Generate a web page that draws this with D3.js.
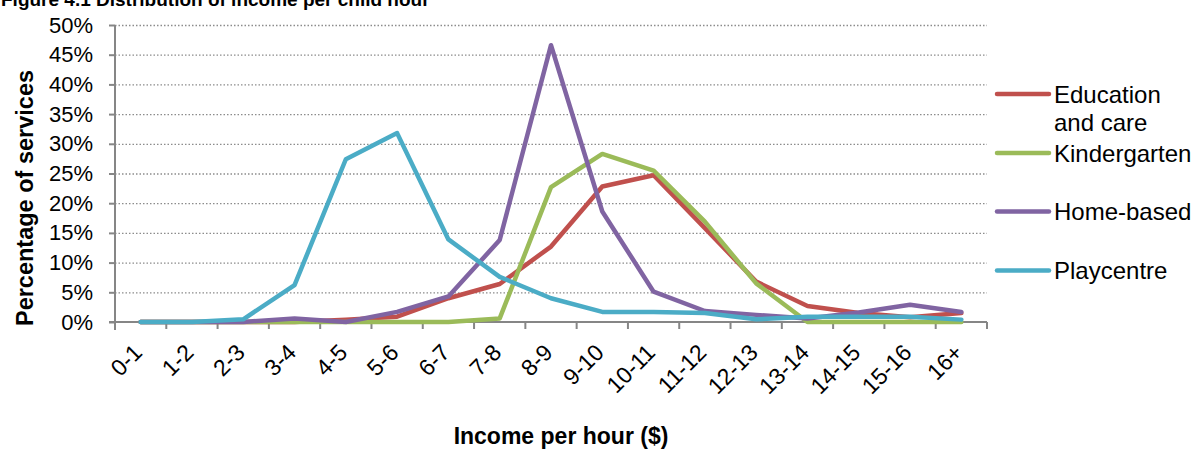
<!DOCTYPE html>
<html>
<head>
<meta charset="utf-8">
<script src="https://cdn.jsdelivr.net/npm/d3@7/dist/d3.min.js"></script>
<style>
  html, body { margin: 0; padding: 0; background: #fff; }
  svg { display: block; font-family: "Liberation Sans", Arial, sans-serif; }
</style>
</head>
<body>
<svg id="chart" width="1193" height="450"></svg>
<script>
const categories = ["0-1","1-2","2-3","3-4","4-5","5-6","6-7","7-8","8-9","9-10","10-11","11-12","12-13","13-14","14-15","15-16","16+"];
const educationCare = [0, 0, 0, 0, 0.4, 0.9, 4.0, 6.4, 12.7, 22.8, 24.7, 15.8, 6.8, 2.7, 1.5, 0.8, 1.5];
const kindergarten  = [0, 0, 0, 0, 0, 0, 0, 0.6, 22.7, 28.3, 25.5, 16.9, 6.5, 0, 0, 0, 0];
const homeBased     = [0, 0, 0, 0.6, 0, 1.7, 4.3, 13.8, 46.6, 18.6, 5.1, 1.85, 1.2, 0.6, 1.6, 2.9, 1.7];
const playcentre    = [0, 0, 0.45, 6.2, 27.4, 31.8, 13.9, 7.6, 4.0, 1.7, 1.7, 1.5, 0.45, 0.9, 0.9, 0.9, 0.4];
const yTicks = [0, 5, 10, 15, 20, 25, 30, 35, 40, 45, 50];
const seriesNames = ["Education and care", "Kindergarten", "Home-based", "Playcentre"];
const seriesColors = ["#C0504D", "#9BBB59", "#8064A2", "#4BACC6"];
const seriesValues = [educationCare, kindergarten, homeBased, playcentre];
const titleText = "Figure 4.1 Distribution of income per child hour";
const yTitle = "Percentage of services";
const xTitle = "Income per hour ($)";

(function () {
const svg = d3.select("#chart");
const pL = 115, pR = 987, pT = 25, pB = 322;

const x = d3.scaleBand().domain(categories).range([pL, pR]).padding(0);
const y = d3.scaleLinear().domain([0, 50]).range([pB, pT]);
const cx = c => x(c) + x.bandwidth() / 2;

// title (cut off at top, as in the reference)
svg.append("text").attr("x", 1).attr("y", 5.5)
  .attr("font-size", 19).attr("font-weight", "bold").attr("fill", "#000")
  .text(titleText);

// gridlines
svg.append("g").selectAll("line").data(yTicks.filter(t => t > 0)).join("line")
  .attr("x1", pL).attr("x2", pR)
  .attr("y1", d => y(d) + 0.5).attr("y2", d => y(d) + 0.5)
  .attr("stroke", "#8c8c8c").attr("stroke-width", 1.3).attr("stroke-dasharray", "1.5,2");

// y axis
const yAxis = d3.axisLeft(y).tickValues(yTicks).tickFormat(d => d + "%").tickSize(6).tickPadding(16);
const gy = svg.append("g").attr("transform", `translate(${pL},0)`).call(yAxis);
gy.select(".domain").attr("stroke", "#868686").attr("stroke-width", 2)
  .attr("d", `M0,${pT}V${pB + 8}`);
gy.selectAll(".tick line").attr("stroke", "#868686").attr("stroke-width", 2);
gy.selectAll(".tick text").attr("font-size", 22).attr("fill", "#000")
  .attr("font-family", "Liberation Sans, Arial, sans-serif");

// x axis line + ticks at category boundaries
const gx = svg.append("g");
gx.append("line").attr("x1", pL - 6).attr("x2", pR).attr("y1", pB).attr("y2", pB)
  .attr("stroke", "#868686").attr("stroke-width", 2);
const bounds = categories.map(c => x(c)).concat([x.range()[1]]);
gx.selectAll("line.tk").data(bounds).join("line").attr("class", "tk")
  .attr("x1", d => d).attr("x2", d => d).attr("y1", pB).attr("y2", pB + 7)
  .attr("stroke", "#868686").attr("stroke-width", 2);
gx.selectAll("text").data(categories).join("text")
  .attr("transform", d => `translate(${cx(d) + 3},${pB + 32}) rotate(-45)`)
  .attr("text-anchor", "end").attr("font-size", 23).attr("fill", "#000")
  .text(d => d);

// lines
const line = d3.line().x((d, i) => cx(categories[i])).y(d => y(d));
seriesValues.forEach((vals, k) => {
  svg.append("path").datum(vals).attr("d", line)
    .attr("fill", "none").attr("stroke", seriesColors[k]).attr("stroke-width", 4.5)
    .attr("stroke-linejoin", "round").attr("stroke-linecap", "round");
});

// axis titles
svg.append("text").attr("transform", `translate(33,198) rotate(-90)`)
  .attr("text-anchor", "middle").attr("font-size", 23.5).attr("font-weight", "bold").text(yTitle);
svg.append("text").attr("x", 561).attr("y", 444)
  .attr("text-anchor", "middle").attr("font-size", 23).attr("font-weight", "bold").text(xTitle);

// legend
const legY = [94, 153, 211.5, 270.5];
const lg = svg.append("g");
seriesNames.forEach((name, k) => {
  lg.append("line").attr("x1", 997).attr("x2", 1049).attr("y1", legY[k]).attr("y2", legY[k])
    .attr("stroke", seriesColors[k]).attr("stroke-width", 4.5).attr("stroke-linecap", "round");
  const t = lg.append("text").attr("x", 1054).attr("y", legY[k] + 8.5)
    .attr("font-size", 24).attr("fill", "#000");
  if (name === "Education and care") {
    t.append("tspan").attr("x", 1054).text("Education");
    t.append("tspan").attr("x", 1054).attr("dy", 28.5).text("and care");
  } else {
    t.text(name);
  }
});
})();
</script>
</body>
</html>
